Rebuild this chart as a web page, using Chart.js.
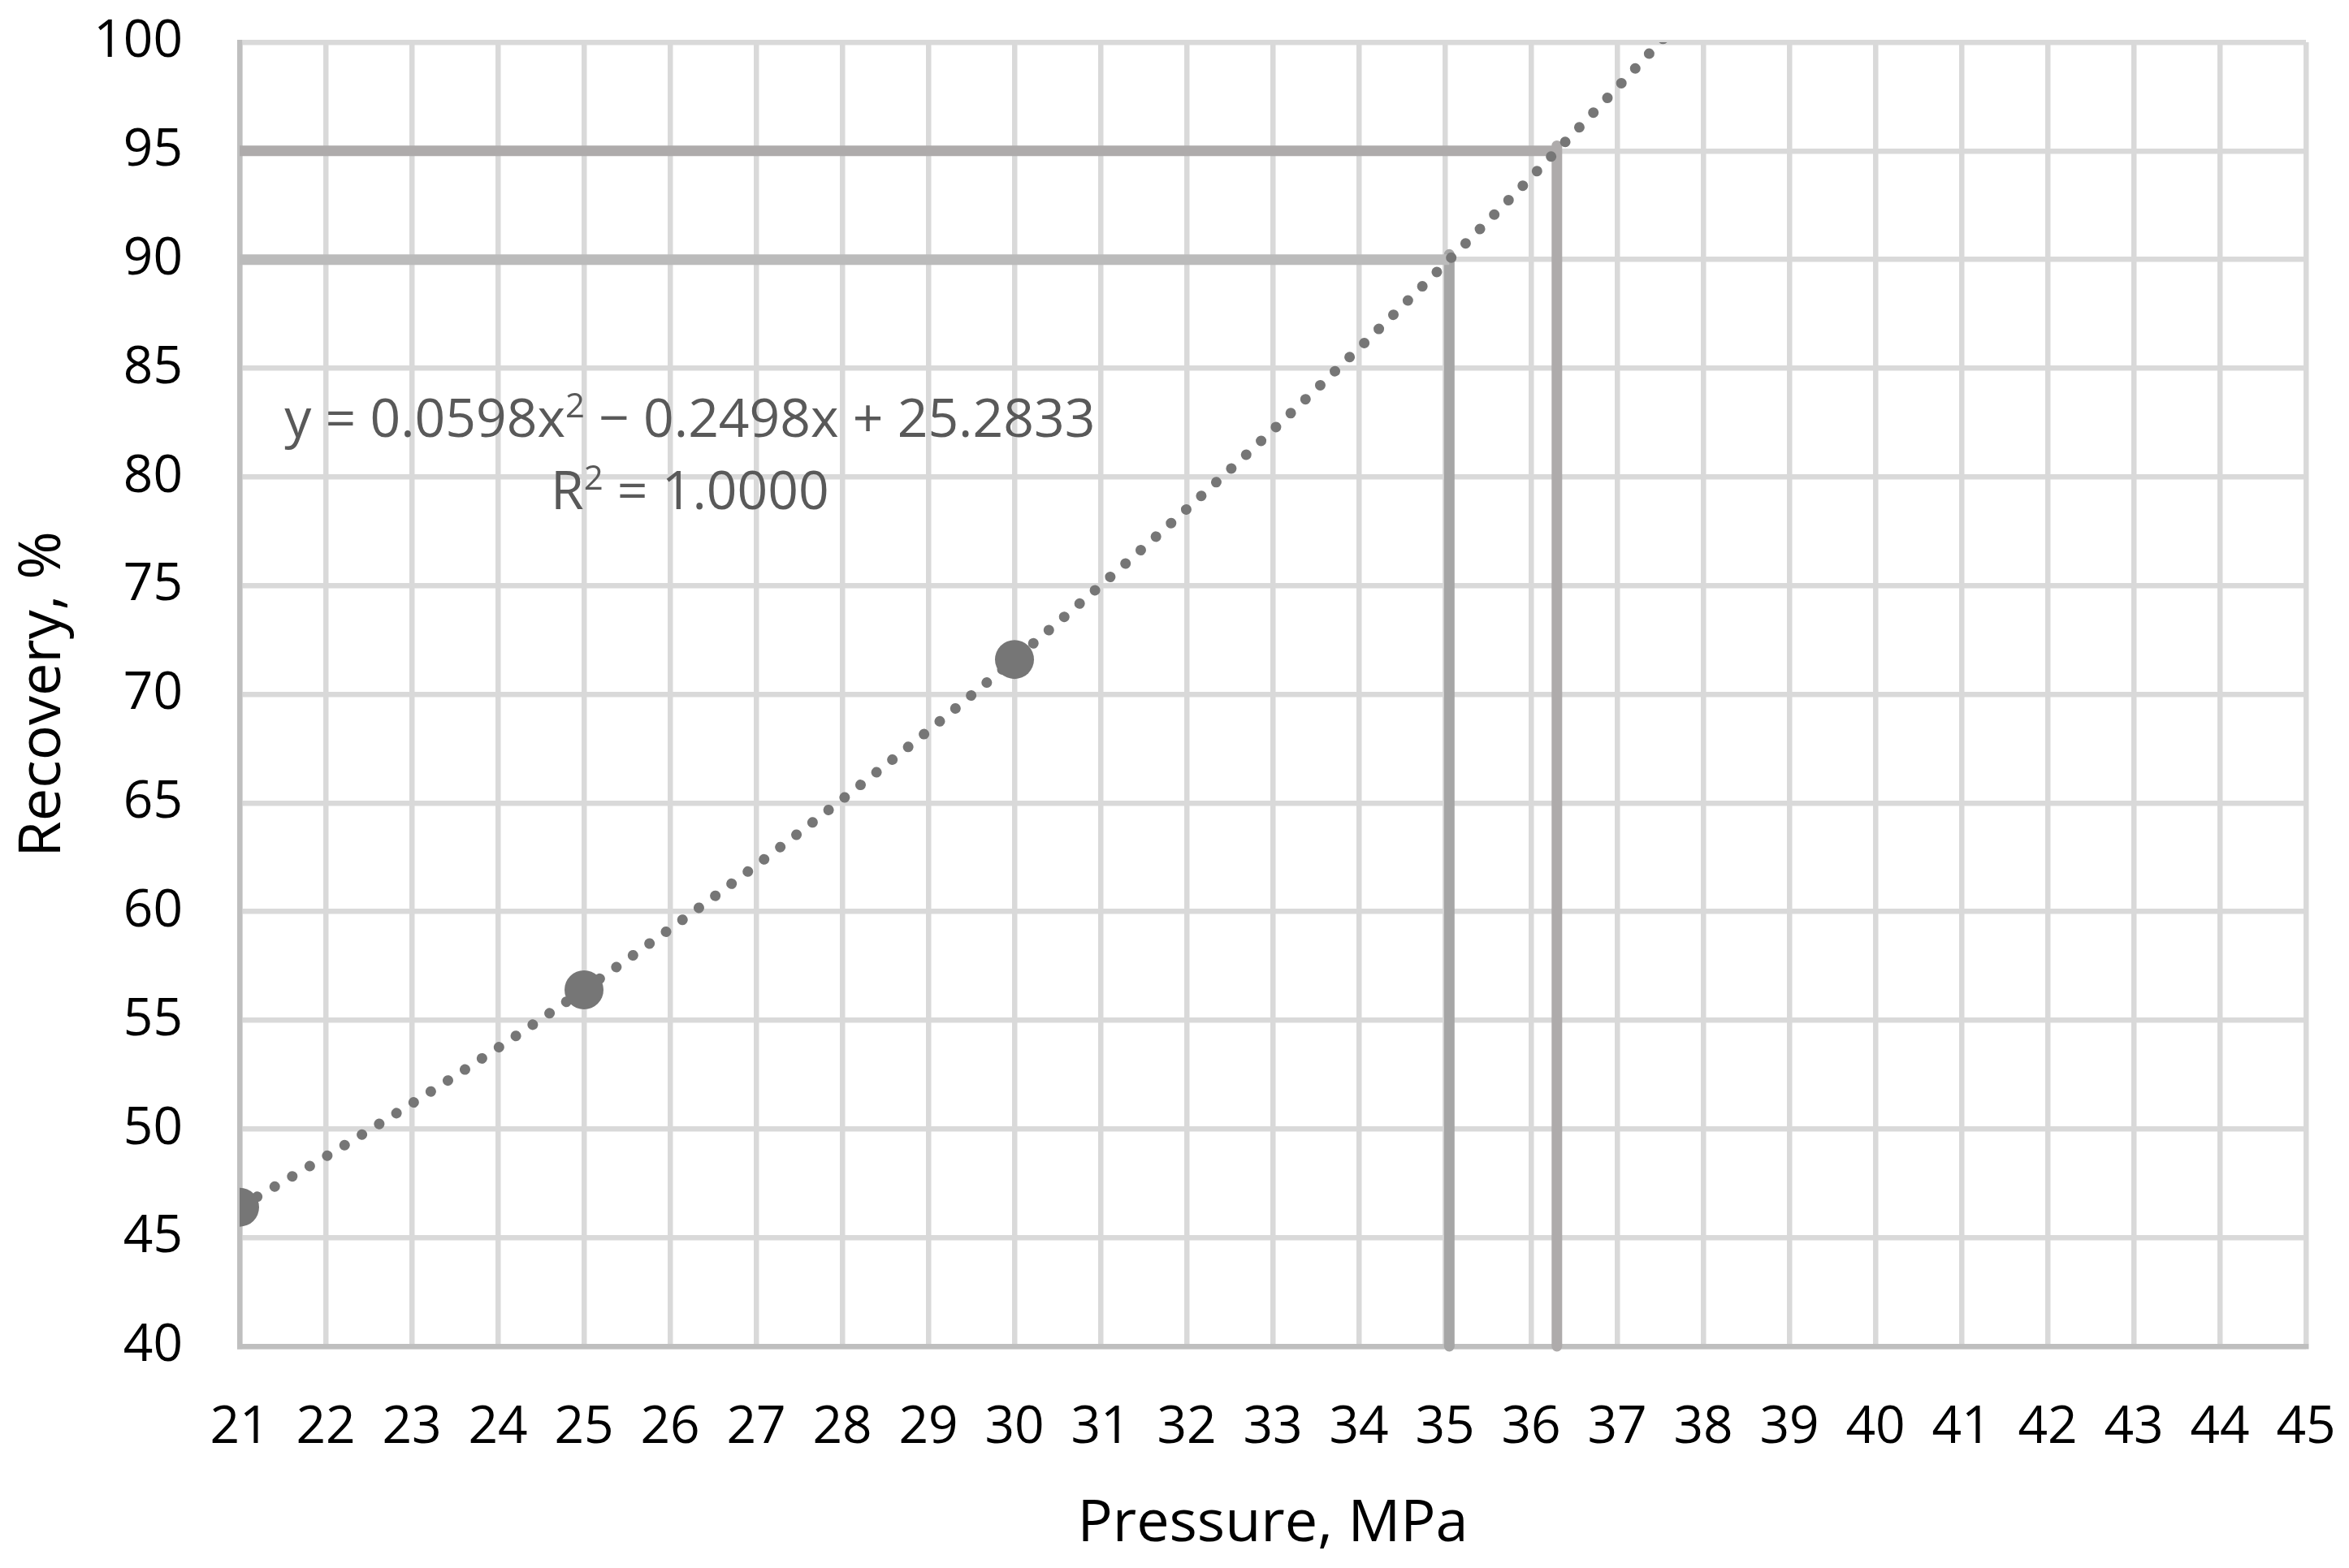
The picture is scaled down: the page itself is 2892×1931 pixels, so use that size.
<!DOCTYPE html>
<html>
<head>
<meta charset="utf-8">
<script src="https://cdn.jsdelivr.net/npm/chart.js@4.4.1/dist/chart.umd.min.js"></script>
<style>
  html, body { margin: 0; padding: 0; background: #fff; }
  canvas { display: block; }
</style>
</head>
<body>
<canvas id="chart" width="2892" height="1931"></canvas>
<script>
// measured points
const pressure = [21, 25, 30];
const recovery = [46.4, 56.4, 71.6];

// polynomial trendline
const trendPressure = [21, 22, 23, 24, 25, 26, 27, 28, 29, 30, 31, 32, 33, 34, 35, 36, 37, 38];
const trendRecovery = [46.41, 48.73, 51.17, 53.73, 56.41, 59.21, 62.13, 65.17, 68.33, 71.61, 75.01, 78.52, 82.16, 85.92, 89.80, 93.79, 97.91, 102.14];

// target recovery lines and the pressure they hit
const targetRecovery = [90, 95];
const targetPressure = [35.05, 36.3];
const targetColors = [["#BBBBBB", "#A6A6A6"], ["#AEABAB", "#AEABAB"]];

const eqLine1 = ["y = 0.0598x", "2", " \u2212 0.2498x + 25.2833"];
const eqLine2 = ["R", "2", " = 1.0000"];

const FONT = "'Open Sans', 'Noto Sans', sans-serif";

const refSets = [];
targetRecovery.forEach((r, i) => {
  const p = targetPressure[i];
  refSets.push({
    data: [{x: 21, y: r}, {x: p, y: r}],
    showLine: true, pointRadius: 0,
    borderColor: targetColors[i][0], borderWidth: 13,
    borderCapStyle: 'butt', clip: false
  });
  refSets.push({
    data: [{x: p, y: r + 0.24}, {x: p, y: 40}],
    showLine: true, pointRadius: 0,
    borderColor: targetColors[i][1], borderWidth: 13,
    borderCapStyle: 'round', clip: false
  });
});

const whiteBg = {
  id: 'whiteBg',
  beforeDraw(chart) {
    const c = chart.ctx;
    c.save();
    c.fillStyle = '#fff';
    c.fillRect(0, 0, chart.width, chart.height);
    c.restore();
  }
};

// trendline equation label
const eqLabel = {
  id: 'eqLabel',
  afterDatasetsDraw(chart) {
    const c = chart.ctx;
    const xs = chart.scales.x, ys = chart.scales.y;
    const cx = xs.getPixelForValue(26.23);
    const lines = [[eqLine1, ys.getPixelForValue(81.85)], [eqLine2, ys.getPixelForValue(78.5)]];
    c.save();
    c.fillStyle = '#595959';
    c.textBaseline = 'alphabetic';
    c.textAlign = 'left';
    const big = "66px " + FONT, small = "42px " + FONT;
    lines.forEach(([parts, base]) => {
      c.font = big; const w0 = c.measureText(parts[0]).width; const w2 = c.measureText(parts[2]).width;
      c.font = small; const w1 = c.measureText(parts[1]).width;
      let x = cx - (w0 + w1 + w2) / 2;
      c.font = big; c.fillText(parts[0], x, base); x += w0;
      c.font = small; c.fillText(parts[1], x, base - 24); x += w1;
      c.font = big; c.fillText(parts[2], x, base);
    });
    c.restore();
  }
};

new Chart(document.getElementById('chart'), {
  type: 'scatter',
  data: {
    datasets: [
      {
        data: pressure.map((p, i) => ({x: p, y: recovery[i]})),
        pointRadius: 24, pointHoverRadius: 24,
        backgroundColor: '#767676', borderColor: '#767676', borderWidth: 0
      },
      {
        data: trendPressure.map((p, i) => ({x: p, y: trendRecovery[i]})),
        showLine: true, pointRadius: 0,
        borderColor: '#767676', borderWidth: 13,
        borderCapStyle: 'round', borderDash: [0.01, 25],
        cubicInterpolationMode: 'monotone'
      },
      ...refSets
    ]
  },
  plugins: [whiteBg, eqLabel],
  options: {
    responsive: false,
    devicePixelRatio: 1,
    animation: false,
    layout: { padding: { top: 52, right: 53, left: 0, bottom: 0 } },
    plugins: { legend: { display: false }, tooltip: { enabled: false } },
    scales: {
      x: {
        type: 'linear', min: 21, max: 45,
        afterFit(scale) { scale.height = 273; scale.paddingLeft = 0; scale.paddingRight = 0; },
        ticks: { stepSize: 1, padding: 62, color: '#000', font: { family: FONT, size: 64 } },
        grid: { color: '#D9D9D9', lineWidth: 6.5, drawTicks: false },
        border: { color: '#BFBFBF', width: 6.5 },
        title: { display: true, text: 'Pressure, MPa', color: '#000', font: { family: FONT, size: 72 }, padding: { top: 0, bottom: 10 } }
      },
      y: {
        min: 40, max: 100,
        afterFit(scale) { scale.width = 295; scale.paddingTop = 0; scale.paddingBottom = 0; },
        ticks: { stepSize: 5, padding: 70, color: '#000', font: { family: FONT, size: 64 } },
        grid: { color: '#D9D9D9', lineWidth: 6.5, drawTicks: false },
        border: { color: '#BFBFBF', width: 6.5 },
        title: { display: true, text: 'Recovery, %', color: '#000', font: { family: FONT, size: 72 }, padding: { top: 10, bottom: 0 } }
      }
    }
  }
});
</script>
</body>
</html>
